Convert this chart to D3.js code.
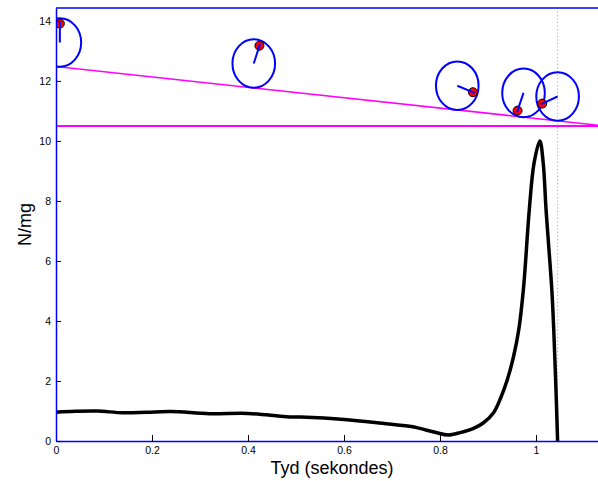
<!DOCTYPE html>
<html>
<head>
<meta charset="utf-8">
<script src="https://cdn.jsdelivr.net/npm/d3@7"></script>
<style>
  body { margin: 0; background: #fff; }
  svg { display: block; font-family: "Liberation Sans", Arial, sans-serif; }
  .tick text { font-size: 10.5px; fill: #000; }
  .tick line { stroke: #000; }
</style>
</head>
<body>
<div id="chart"></div>
<script>
// force curve (time in s, N/mg)
const curveT = [0, 0.04, 0.085, 0.14, 0.19, 0.24, 0.32, 0.40, 0.48, 0.51, 0.60, 0.68, 0.74,
  0.79, 0.817, 0.842, 0.87, 0.89, 0.912, 0.928, 0.940, 0.953, 0.964, 0.974, 0.986, 0.996, 1.008,
  1.015, 1.021, 1.033, 1.037, 1.041, 1.045];
const curveN = [0.96, 0.99, 1.0, 0.94, 0.96, 0.98, 0.91, 0.92, 0.81, 0.80, 0.72, 0.59, 0.48,
  0.29, 0.20, 0.28, 0.42, 0.6, 0.95, 1.5, 2.03, 2.8, 3.7, 5.1, 7.7, 9.27, 10.0,
  9.27, 7.7, 5.03, 3.7, 2.0, 0];

// wheel snapshots
const wheelX = [0.008, 0.412, 0.836, 0.974, 1.045];
const wheelY = [13.28, 12.58, 11.84, 11.60, 11.48];
const wheelAngle = [0, 20, 110, 201, 248]; // degrees, clockwise from up
const wheelRx = 0.0444;
const wheelRy = 0.81;

// guide lines
const slopeLine = [[0, 12.48], [1.15, 10.49]];
const floorY = 10.5;
const topY = 14.43;
const markerT = 1.045;

const xTicks = [0, 0.2, 0.4, 0.6, 0.8, 1];
const yTicks = [0, 2, 4, 6, 8, 10, 12, 14];

const width = 598;
const height = 481;
const margin = { top: 8, left: 56, bottom: 40 };
const xMax = 1.15;

const x = d3.scaleLinear()
  .domain([0, xMax])
  .range([margin.left, margin.left + 480 * xMax]);

const y = d3.scaleLinear()
  .domain([0, topY])
  .range([height - margin.bottom, margin.top]);

const svg = d3.select("#chart")
  .append("svg")
  .attr("width", width)
  .attr("height", height);

svg.append("clipPath")
  .attr("id", "plotClip")
  .append("rect")
  .attr("x", x(0))
  .attr("y", y(topY))
  .attr("width", x(xMax) - x(0))
  .attr("height", y(0) - y(topY));

const plot = svg.append("g").attr("clip-path", "url(#plotClip)");

// magenta guide lines
plot.append("line")
  .attr("x1", x(slopeLine[0][0])).attr("y1", y(slopeLine[0][1]))
  .attr("x2", x(slopeLine[1][0])).attr("y2", y(slopeLine[1][1]))
  .attr("stroke", "#ff00ff").attr("stroke-width", 1.5);

plot.append("line")
  .attr("x1", x(0)).attr("y1", y(floorY))
  .attr("x2", x(xMax)).attr("y2", y(floorY))
  .attr("stroke", "#ff00ff").attr("stroke-width", 2);

// dotted time marker
plot.append("line")
  .attr("x1", x(markerT)).attr("y1", y(topY))
  .attr("x2", x(markerT)).attr("y2", y(0))
  .attr("stroke", "#ff3030").attr("stroke-width", 1)
  .attr("stroke-dasharray", "1,2.5").attr("opacity", 0.6);

// force curve
const curveData = curveT.map((t, i) => ({ t: t, n: curveN[i] }));

plot.append("path")
  .datum(curveData)
  .attr("fill", "none")
  .attr("stroke", "#000")
  .attr("stroke-width", 3.5)
  .attr("stroke-linejoin", "round")
  .attr("d", d3.line()
    .x(d => x(d.t))
    .y(d => y(d.n))
    .curve(d3.curveCatmullRom.alpha(0.5)));

// wheels
const wheels = wheelX.map((wx, i) => ({ x: wx, y: wheelY[i], a: wheelAngle[i] * Math.PI / 180 }));
const rxPx = x(wheelRx) - x(0);
const ryPx = y(0) - y(wheelRy);

const wheel = plot.append("g")
  .selectAll("g")
  .data(wheels)
  .join("g");

wheel.append("ellipse")
  .attr("cx", d => x(d.x))
  .attr("cy", d => y(d.y))
  .attr("rx", rxPx)
  .attr("ry", ryPx)
  .attr("fill", "none")
  .attr("stroke", "#0000ff")
  .attr("stroke-width", 2);

wheel.append("circle")
  .attr("cx", d => x(d.x) + 0.78 * rxPx * Math.sin(d.a))
  .attr("cy", d => y(d.y) - 0.78 * ryPx * Math.cos(d.a))
  .attr("r", 4.5)
  .attr("fill", "#ff0000")
  .attr("stroke", "#000")
  .attr("stroke-width", 1);

wheel.append("line")
  .attr("x1", d => x(d.x))
  .attr("y1", d => y(d.y))
  .attr("x2", d => x(d.x) + 0.86 * rxPx * Math.sin(d.a))
  .attr("y2", d => y(d.y) - 0.86 * ryPx * Math.cos(d.a))
  .attr("stroke", "#0000ff")
  .attr("stroke-width", 2);

// axes
const xAxis = g => g
  .attr("transform", `translate(0, ${y(0)})`)
  .call(d3.axisBottom(x).tickValues(xTicks).tickFormat(d3.format("~g"))
    .tickSizeInner(-6).tickSizeOuter(0).tickPadding(6))
  .call(g => g.select(".domain").attr("stroke", "#0000ff").attr("stroke-width", 1.5));

const yAxis = g => g
  .attr("transform", `translate(${x(0)}, 0)`)
  .call(d3.axisLeft(y).tickValues(yTicks)
    .tickSizeInner(-5).tickSizeOuter(0).tickPadding(5))
  .call(g => g.select(".domain").attr("stroke", "#0000ff").attr("stroke-width", 1.5));

svg.append("g").call(xAxis);
svg.append("g").call(yAxis);

svg.selectAll(".tick text").attr("font-family", "Liberation Sans, Arial, sans-serif");

svg.append("line")
  .attr("x1", x(0)).attr("y1", y(topY))
  .attr("x2", x(xMax)).attr("y2", y(topY))
  .attr("stroke", "#0000ff").attr("stroke-width", 1.5);

svg.append("text")
  .attr("x", (x(0) + x(xMax)) / 2)
  .attr("y", 474)
  .attr("text-anchor", "middle")
  .attr("font-size", 18)
  .text("Tyd (sekondes)");

svg.append("text")
  .attr("transform", `translate(31, ${(y(0) + y(topY)) / 2}) rotate(-90)`)
  .attr("text-anchor", "middle")
  .attr("font-size", 18)
  .text("N/mg");
</script>
</body>
</html>
